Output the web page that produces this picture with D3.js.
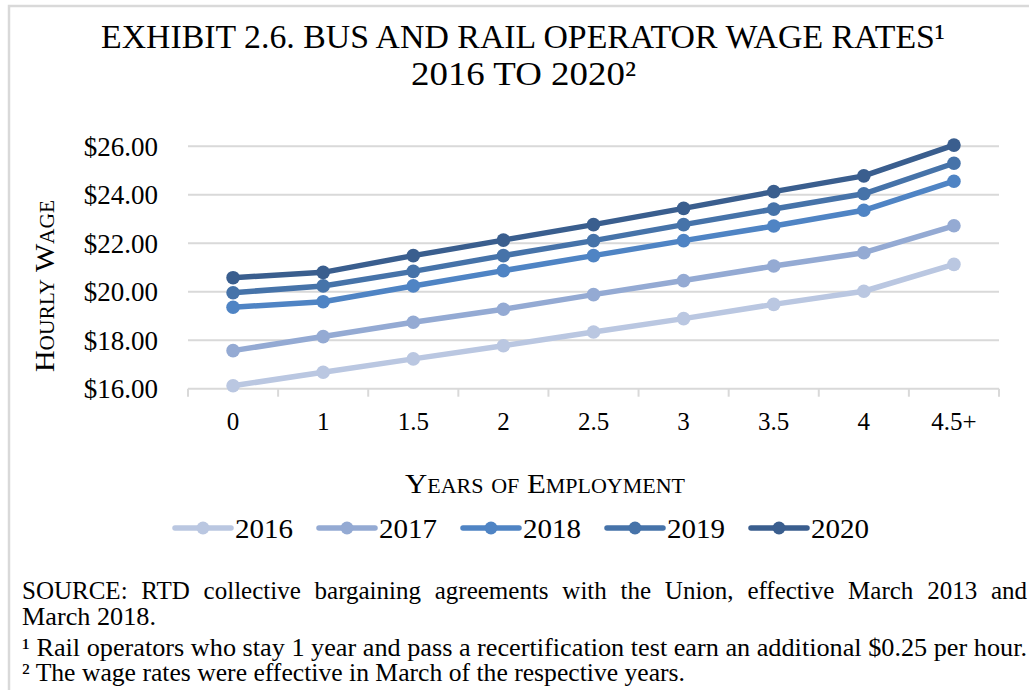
<!DOCTYPE html>
<html><head><meta charset="utf-8">
<script src="https://cdn.jsdelivr.net/npm/d3@7"></script>
<style>
html,body{margin:0;padding:0;background:#fff;}
svg{display:block;font-family:"Liberation Serif","Times New Roman",serif;}
</style></head>
<body>
<svg id="c" width="1029" height="690"></svg>
<script>
const categories = ["0","1","1.5","2","2.5","3","3.5","4","4.5+"];
const years = ["2016","2017","2018","2019","2020"];
const wage2016 = [16.12,16.68,17.23,17.77,18.34,18.89,19.48,20.02,21.13];
const wage2017 = [17.57,18.15,18.74,19.28,19.88,20.46,21.06,21.61,22.72];
const wage2018 = [19.36,19.59,20.24,20.87,21.49,22.11,22.71,23.36,24.56];
const wage2019 = [19.96,20.24,20.84,21.49,22.11,22.77,23.41,24.04,25.30];
const wage2020 = [20.58,20.80,21.49,22.13,22.77,23.44,24.13,24.78,26.05];
const yTicks = [16,18,20,22,24,26];
const colors = ["#BAC7E1","#94AAD3","#4F84C4","#4673A9","#3A5E8E"];

const seriesList = [wage2016,wage2017,wage2018,wage2019,wage2020];
const svg = d3.select("#c");

// outer border
svg.append("path").attr("d","M9,700 L9,6 L1040,6").attr("fill","none")
  .attr("stroke","#D9D9D9").attr("stroke-width",2.5);

const x = d3.scaleBand().domain(categories).range([188,999]);
const y = d3.scaleLinear().domain([16,26]).range([388.7,146.3]);

// gridlines
svg.append("g").selectAll("line").data(yTicks.slice(1)).join("line")
  .attr("x1",188).attr("x2",999).attr("y1",d=>y(d)).attr("y2",d=>y(d))
  .attr("stroke","#D9D9D9").attr("stroke-width",2);

// x axis
const xa = svg.append("g").attr("transform",`translate(0,${y(16)})`)
  .call(d3.axisBottom(x).tickSize(0).tickPadding(0));
xa.select(".domain").remove();
xa.append("line").attr("x1",188).attr("x2",999).attr("stroke","#D9D9D9").attr("stroke-width",2);
const edges = d3.range(categories.length+1).map(i=>x.range()[0]+i*x.step());
xa.selectAll(".edge").data(edges).join("line").attr("class","edge")
  .attr("x1",d=>d).attr("x2",d=>d).attr("y1",0).attr("y2",8)
  .attr("stroke","#D9D9D9").attr("stroke-width",2);
xa.selectAll(".tick text").attr("font-size",25).attr("fill","#000")
  .attr("font-family","Liberation Serif").attr("dy",0).attr("y",41);

// y axis
const ya = svg.append("g").attr("transform","translate(158,0)")
  .call(d3.axisLeft(y).tickValues(yTicks).tickSize(0).tickPadding(0).tickFormat(d=>"$"+d3.format(".2f")(d)));
ya.select(".domain").remove();
ya.selectAll(".tick text").attr("font-size",27).attr("fill","#000")
  .attr("font-family","Liberation Serif").attr("dy","0.33em");

// lines
const line = d3.line().x((d,i)=>x(categories[i])+x.bandwidth()/2).y(d=>y(d));
seriesList.forEach((s,k)=>{
  svg.append("path").datum(s).attr("d",line).attr("fill","none")
    .attr("stroke",colors[k]).attr("stroke-width",5.5).attr("stroke-linejoin","round");
  svg.append("g").selectAll("circle").data(s).join("circle")
    .attr("cx",(d,i)=>x(categories[i])+x.bandwidth()/2).attr("cy",d=>y(d))
    .attr("r",6.8).attr("fill",colors[k]);
});

// title (Unicode superscripts keep each line one text run)
svg.append("text").attr("x",101).attr("y",48).attr("font-size",34).attr("fill","#000")
  .attr("textLength",844).attr("lengthAdjust","spacingAndGlyphs")
  .text("EXHIBIT 2.6. BUS AND RAIL OPERATOR WAGE RATES\u00B9");
svg.append("text").attr("x",411).attr("y",85).attr("font-size",34).attr("fill","#000")
  .attr("textLength",225).attr("lengthAdjust","spacingAndGlyphs")
  .text("2016 TO 2020\u00B2");

// axis titles
svg.append("text").attr("transform","translate(54,286) rotate(-90)").attr("text-anchor","middle")
  .attr("font-size",28).attr("font-variant","small-caps").attr("fill","#000")
  .attr("textLength",172).attr("lengthAdjust","spacingAndGlyphs").text("Hourly Wage");
svg.append("text").attr("x",545).attr("y",493).attr("text-anchor","middle")
  .attr("font-size",28).attr("font-variant","small-caps").attr("fill","#000")
  .attr("textLength",280).attr("lengthAdjust","spacingAndGlyphs").text("Years of Employment");

// legend
const leg = svg.append("g").selectAll("g").data(years).join("g")
  .attr("transform",(d,i)=>`translate(${175+i*144},528)`);
leg.append("line").attr("x1",0).attr("x2",56).attr("stroke",(d,i)=>colors[i]).attr("stroke-width",5.5).attr("stroke-linecap","round");
leg.append("circle").attr("cx",28).attr("r",6.5).attr("fill",(d,i)=>colors[i]);
leg.append("text").attr("x",60).attr("y",10).attr("font-size",27).attr("fill","#000")
  .attr("textLength",58).attr("lengthAdjust","spacingAndGlyphs").text(d=>d);

// footnotes
const fs = 25;
const s1 = svg.append("text").attr("x",22).attr("y",599).attr("font-size",fs).attr("fill","#000")
  .text("SOURCE: RTD collective bargaining agreements with the Union, effective March 2013 and");
const nat = s1.node().getComputedTextLength();
const spaces = (s1.text().match(/ /g)||[]).length;
s1.attr("word-spacing",Math.max(0,(1027-22-nat)/spaces));
svg.append("text").attr("x",22).attr("y",625).attr("font-size",fs).attr("fill","#000")
  .attr("textLength",134).attr("lengthAdjust","spacingAndGlyphs").text("March 2018.");
svg.append("text").attr("x",22).attr("y",656).attr("font-size",fs).attr("fill","#000")
  .attr("textLength",1005).attr("lengthAdjust","spacingAndGlyphs")
  .text("\u00B9 Rail operators who stay 1 year and pass a recertification test earn an additional $0.25 per hour.");
svg.append("text").attr("x",22).attr("y",681).attr("font-size",fs).attr("fill","#000")
  .attr("textLength",663).attr("lengthAdjust","spacingAndGlyphs")
  .text("\u00B2 The wage rates were effective in March of the respective years.");
</script>
</body></html>
